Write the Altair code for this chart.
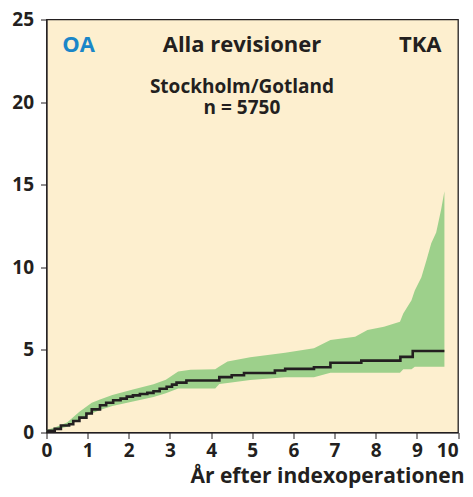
import altair as alt
import pandas as pd

# Kaplan-Meier style cumulative revision curve (percent)
x_line = [0, 0.2, 0.35, 0.55, 0.65, 0.8, 0.97, 1.1, 1.3, 1.45, 1.62, 1.8, 1.95, 2.1, 2.27, 2.45, 2.6, 2.75,
          2.92, 3.05, 3.16, 3.4, 4.2, 4.5, 4.8, 5.55, 5.8, 6.5, 6.9, 7.65, 8.6, 8.9, 9.67]
y_line = [0.1, 0.22, 0.42, 0.5, 0.7, 0.9, 1.15, 1.4, 1.65, 1.8, 1.95, 2.05, 2.17, 2.25, 2.33, 2.4, 2.5, 2.65,
          2.77, 2.9, 3.02, 3.15, 3.35, 3.47, 3.6, 3.75, 3.85, 3.95, 4.22, 4.35, 4.58, 4.93, 4.93]

# Confidence band
x_band = [0, 0.2, 0.5, 0.8, 1.1, 1.3, 1.6, 2.1, 2.6, 2.9, 3.2, 3.5, 4.1, 4.2, 4.4, 4.95, 5.8, 6.5, 6.9, 7.5,
          7.8, 8.2, 8.59, 8.67, 8.87, 8.95, 9.11, 9.23, 9.35, 9.47, 9.59, 9.67]
band_hi = [0.15, 0.3, 0.6, 1.25, 1.8, 2.0, 2.27, 2.6, 2.92, 3.2, 3.7, 3.8, 3.83, 4.0, 4.3, 4.55, 4.83, 5.1,
           5.6, 5.8, 6.2, 6.4, 6.7, 7.2, 8.0, 8.6, 9.4, 10.4, 11.45, 12.1, 13.5, 14.6]
band_lo = [0.05, 0.15, 0.35, 0.8, 1.15, 1.36, 1.6, 1.87, 2.15, 2.37, 2.67, 2.67, 2.67, 2.93, 3.0, 3.18, 3.34,
           3.34, 3.62, 3.62, 3.62, 3.62, 3.62, 3.83, 3.83, 3.98, 3.98, 3.98, 3.98, 3.98, 3.98, 3.98]

x_ticks = [0, 1, 2, 3, 4, 5, 6, 7, 8, 9, 10]
y_ticks = [0, 5, 10, 15, 20, 25]

labels_text = ["OA", "Alla revisioner", "TKA", ["Stockholm/Gotland", "n = 5750"]]
labels_x = [0.38, 4.75, 9.6, 4.75]
labels_y = [23.45, 23.45, 23.45, 20.9]
labels_kind = ["oa", "title", "tka", "sub"]

FONT = "Open Sans"
INK = "#231f20"

line_df = pd.DataFrame({"x": x_line, "y": y_line})
band_df = pd.DataFrame({"x": x_band, "lo": band_lo, "hi": band_hi})
lab_df = pd.DataFrame({"text": labels_text, "x": labels_x, "y": labels_y, "kind": labels_kind})

xs = alt.Scale(domain=[0, 10], nice=False, zero=False)
ys = alt.Scale(domain=[0, 25], nice=False)

x_axis = alt.Axis(values=x_ticks, title="År efter indexoperationen", titleFontSize=21,
                  titleFontWeight="bold", titleFont=FONT, titleColor=INK, titleAnchor="end",
                  titleAlign="right", titleX=417.5, titleY=50, titleBaseline="alphabetic",
                  labelFontSize=19, labelFontWeight="bold", labelFont=FONT, labelColor=INK,
                  labelPadding=3, tickSize=6, tickColor=INK, domainColor=INK, grid=False,
                  labelFlush=False,
                  labelAlign=alt.ExprRef(expr="datum.value == 10 ? 'right' : 'center'"))
y_axis = alt.Axis(values=y_ticks, title=None, labelFontSize=19, labelFontWeight="bold",
                  labelFont=FONT, labelColor=INK, labelPadding=7, tickSize=6, tickColor=INK,
                  domainColor=INK, grid=False)

band = alt.Chart(band_df).mark_area(color="#9dd08b", opacity=1, interpolate="linear").encode(
    x=alt.X("x:Q", scale=xs, axis=x_axis),
    y=alt.Y("lo:Q", scale=ys, axis=y_axis),
    y2="hi:Q",
)

line = alt.Chart(line_df).mark_line(color=INK, strokeWidth=2.6, interpolate="step-after").encode(
    x=alt.X("x:Q", scale=xs),
    y=alt.Y("y:Q", scale=ys),
)

def txt(kind, size, color, align, lh=None):
    kw = dict(font=FONT, fontWeight="bold", fontSize=size, color=color, align=align, baseline="middle")
    if lh:
        kw["lineHeight"] = lh
    return alt.Chart(lab_df).transform_filter(alt.datum.kind == kind).mark_text(**kw).encode(
        x=alt.X("x:Q", scale=xs), y=alt.Y("y:Q", scale=ys), text="text")

chart = alt.layer(
    band, line,
    txt("oa", 22, "#1a86c8", "left"),
    txt("title", 22, INK, "center"),
    txt("tka", 22, INK, "right"),
    txt("sub", 19, INK, "center", lh=21),
).properties(
    width=411.5, height=413,
    autosize=alt.AutoSizeParams(type="none"),
    padding={"left": 38.5, "top": 11.5, "right": 7, "bottom": 56},
).configure_view(
    fill="#fdefcf", stroke=INK, strokeWidth=1.3
)

chart.save("out.html", embed_options={"renderer": "svg", "actions": False})
